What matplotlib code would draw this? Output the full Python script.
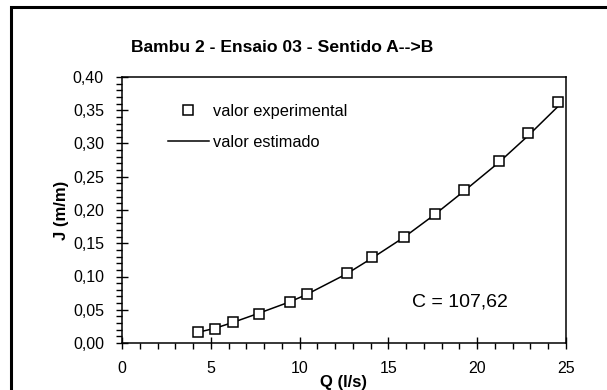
import matplotlib
matplotlib.use("Agg")
import matplotlib.pyplot as plt
from matplotlib.ticker import MultipleLocator, FuncFormatter
from matplotlib.patches import Rectangle

plt.rcParams['font.family'] = ['Liberation Sans', 'DejaVu Sans']

# data
q_exp = [4.26, 5.22, 6.25, 7.73, 9.46, 10.40, 12.65, 14.10, 15.88, 17.60, 19.24, 21.24, 22.88, 24.53]
j_exp = [0.017, 0.021, 0.031, 0.043, 0.061, 0.073, 0.106, 0.129, 0.160, 0.194, 0.230, 0.274, 0.316, 0.362]
q_est = [4.26, 5.22, 6.25, 7.73, 9.46, 10.40, 12.65, 14.10, 15.88, 17.60, 19.24, 21.24, 22.88, 24.60]
j_est = [0.016, 0.022, 0.031, 0.045, 0.062, 0.073, 0.104, 0.128, 0.159, 0.193, 0.228, 0.272, 0.312, 0.357]

title = "Bambu 2 - Ensaio 03 - Sentido A-->B"
note = "C = 107,62"

W, H = 607, 390
fig = plt.figure(figsize=(W / 100, H / 100), dpi=100)

# outer chart frame (cropped on the right and bottom)
fig.patches.append(Rectangle((11 / W, -0.05), 1.1, 1 - 7 / H + 0.05, transform=fig.transFigure,
                             fill=False, edgecolor='black', linewidth=2.2))

ax = fig.add_axes([122 / W, 1 - 343 / H, (566 - 122) / W, (343 - 77) / H])

ax.plot(q_est, j_est, color='black', linewidth=1.1, label='valor estimado', zorder=2)
ax.plot(q_exp, j_exp, linestyle='none', marker='s', markersize=7, markerfacecolor='white',
        markeredgecolor='black', markeredgewidth=1.1, label='valor experimental', zorder=3)

ax.set_xlim(0, 25)
ax.set_ylim(0, 0.40)
ax.xaxis.set_major_locator(MultipleLocator(5))
ax.xaxis.set_minor_locator(MultipleLocator(1))
ax.yaxis.set_major_locator(MultipleLocator(0.05))
ax.yaxis.set_minor_locator(MultipleLocator(0.01))
ax.yaxis.set_major_formatter(FuncFormatter(lambda v, p: f"{v:.2f}".replace('.', ',')))

ax.tick_params(which='major', direction='inout', length=8, width=1, labelsize=11.5)
ax.tick_params(which='minor', direction='out', length=4, width=1)
ax.tick_params(axis='x', which='major', pad=9)
ax.tick_params(axis='y', which='major', pad=9)
for s in ax.spines.values():
    s.set_linewidth(1.1)

ax.set_xlabel("Q (l/s)", fontsize=12, fontweight='bold', labelpad=-1)
ax.set_ylabel("J (m/m)", fontsize=12, fontweight='bold', labelpad=3)

fig.text(282 / W, 1 - 47 / H, title, ha='center', va='center', fontsize=12.6, fontweight='bold')
ax.text(460, H - 302, note, transform=None, fontsize=14, ha='center', va='center')

h, l = ax.get_legend_handles_labels()
ax.legend(h[::-1], l[::-1], loc='upper left', bbox_to_anchor=((168 - 122) / 444, 1 - (104 - 77) / 266),
          frameon=False, fontsize=11.8, handlelength=2.5, handletextpad=0.25, labelspacing=0.95,
          borderpad=0, borderaxespad=0)

fig.savefig("out.png", dpi=100)
